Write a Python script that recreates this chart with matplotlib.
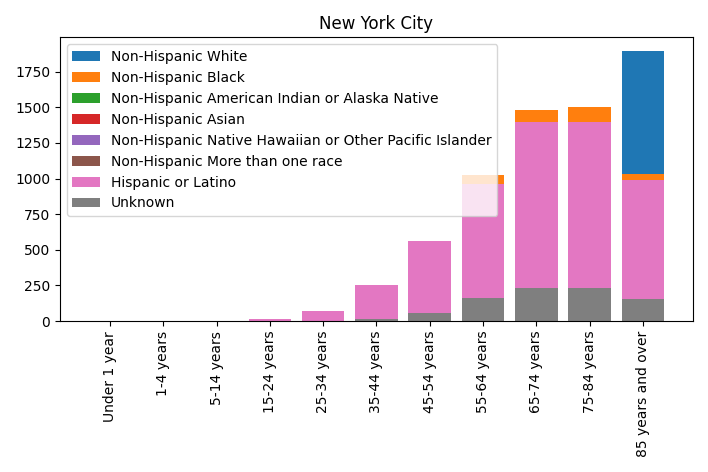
import matplotlib
matplotlib.use("Agg")
import matplotlib.pyplot as plt
import numpy as np

age_groups = ["Under 1 year", "1-4 years", "5-14 years", "15-24 years", "25-34 years",
              "35-44 years", "45-54 years", "55-64 years", "65-74 years", "75-84 years",
              "85 years and over"]

series_names = ["Non-Hispanic White", "Non-Hispanic Black",
                "Non-Hispanic American Indian or Alaska Native", "Non-Hispanic Asian",
                "Non-Hispanic Native Hawaiian or Other Pacific Islander",
                "Non-Hispanic More than one race", "Hispanic or Latino", "Unknown"]

white    = [0, 0, 0, 0, 0, 0, 0, 0, 0, 0, 1897]
black    = [0, 0, 0, 0, 0, 0, 0, 1022, 1485, 1500, 1030]
aian     = [0, 0, 0, 0, 0, 0, 0, 0, 0, 0, 0]
asian    = [0, 0, 0, 0, 0, 0, 0, 0, 0, 0, 0]
nhpi     = [0, 0, 0, 0, 0, 0, 0, 0, 0, 0, 0]
multi    = [0, 0, 0, 0, 0, 0, 0, 0, 0, 0, 0]
hispanic = [0, 0, 0, 12, 70, 252, 560, 962, 1395, 1395, 993]
unknown  = [0, 0, 0, 0, 0, 12, 55, 160, 230, 230, 155]

values = [white, black, aian, asian, nhpi, multi, hispanic, unknown]

fig, ax = plt.subplots(figsize=(7.08, 4.72), dpi=100)
for name, vals in zip(series_names, values):
    ax.bar(age_groups, vals, label=name)
ax.set_title("New York City")
ax.legend(loc="upper left")
plt.xticks(rotation=90)
plt.tight_layout()
fig.savefig("out.png", dpi=100)
